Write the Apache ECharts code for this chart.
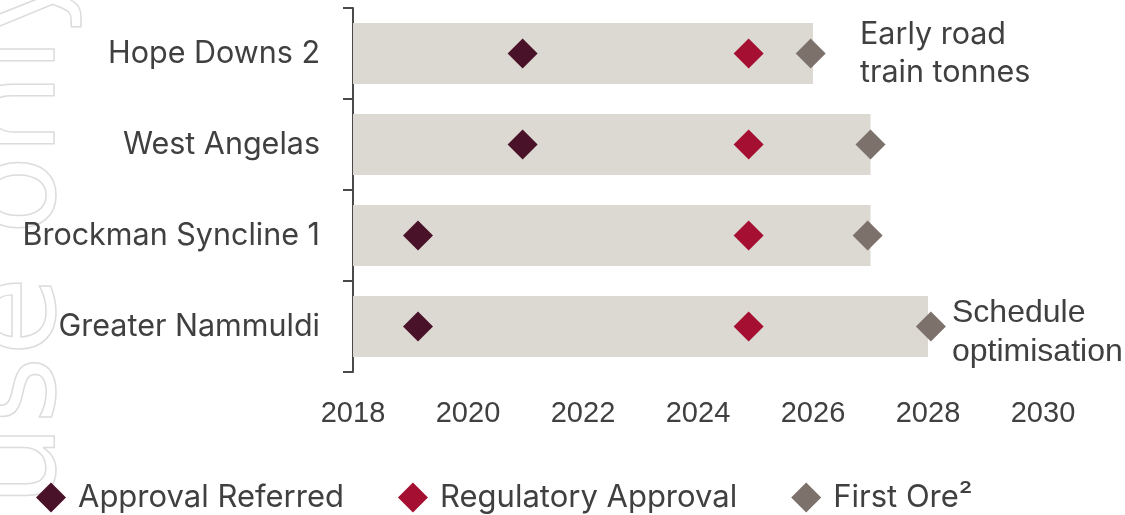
<!DOCTYPE html>
<html><head><meta charset="utf-8">
<script src="https://cdn.jsdelivr.net/npm/echarts@6/dist/echarts.min.js"></script>
<style>html,body{margin:0;padding:0;background:#fff}#c{width:1125px;height:515px}</style>
</head><body><div id="c"></div>
<script>
const categories = ['Hope Downs 2', 'West Angelas', 'Brockman Syncline 1', 'Greater Nammuldi'];
const barEnd = [2026, 2027, 2027, 2028];
const approvalReferred = [2020.95, 2020.95, 2019.13, 2019.13];
const regulatoryApproval = [2024.88, 2024.88, 2024.88, 2024.88];
const firstOre = [2025.96, 2027.0, 2026.95, 2028.05];
const xTicks = [2018, 2030, 2];
const notes = [['Early road', 'train tonnes'], ['Schedule', 'optimisation']];

const FONT = 'Inter, "Liberation Sans", sans-serif';
const FONT2 = '"Liberation Sans", Arial, sans-serif';
const TXT = '#404040';
const chart = echarts.init(document.getElementById('c'));
const pts = arr => arr.map((v, i) => [v, categories[i]]);
chart.setOption({
  animation: false,
  grid: {left: 353, right: 82, top: 8, bottom: 143},
  xAxis: {type: 'value', min: xTicks[0], max: xTicks[1], interval: xTicks[2],
    axisLine: {show: false}, axisTick: {show: false}, splitLine: {show: false},
    axisLabel: {color: TXT, fontSize: 29, fontFamily: FONT2, margin: 27, formatter: v => String(v)}},
  yAxis: {type: 'category', data: categories, inverse: true,
    axisLine: {show: true, lineStyle: {color: '#4a4a4a', width: 2}},
    axisTick: {show: true, length: 10, lineStyle: {color: '#4a4a4a', width: 2}},
    axisLabel: {color: TXT, fontSize: 30.5, fontFamily: FONT, margin: 33}},
  legend: {left: 31, top: 477, itemWidth: 30, itemHeight: 30, itemGap: 54,
    textStyle: {color: TXT, fontSize: 31, fontFamily: FONT, padding: [0, 0, 0, 7]},
    data: [{name: 'Approval Referred', icon: 'diamond'}, {name: 'Regulatory Approval', icon: 'diamond'}, {name: 'First Ore²', icon: 'diamond'}]},
  series: [
    {type: 'bar', name: 'range', data: barEnd, barWidth: 61, itemStyle: {color: '#DCD9D3'}, silent: true},
    {type: 'scatter', name: 'Approval Referred', symbol: 'diamond', symbolSize: 30, data: pts(approvalReferred), itemStyle: {color: '#4A1228', opacity: 1}, z: 5},
    {type: 'scatter', name: 'Regulatory Approval', symbol: 'diamond', symbolSize: 30, data: pts(regulatoryApproval), itemStyle: {color: '#A50F32', opacity: 1}, z: 5},
    {type: 'scatter', name: 'First Ore²', symbol: 'diamond', symbolSize: 30, data: pts(firstOre), itemStyle: {color: '#7D716B', opacity: 1}, z: 5}
  ],
  graphic: [
    {type: 'text', x: 85, y: -40, rotation: Math.PI / 2, z: -1,
      style: {text: 'For personal use only', font: '130px "DejaVu Sans", sans-serif', fill: 'rgba(255,255,255,0)', stroke: '#dcdcdc', lineWidth: 1.5, textAlign: 'right', align: 'right', textVerticalAlign: 'bottom', verticalAlign: 'bottom'}},
    {type: 'text', x: 860, y: 16, style: {text: notes[0].join('\n'), font: '30.5px ' + FONT, fill: TXT, lineHeight: 38}},
    {type: 'text', x: 952, y: 294, style: {text: notes[1].join('\n'), font: '32px ' + FONT2, fill: TXT, lineHeight: 39}}
  ]
});
</script></body></html>
